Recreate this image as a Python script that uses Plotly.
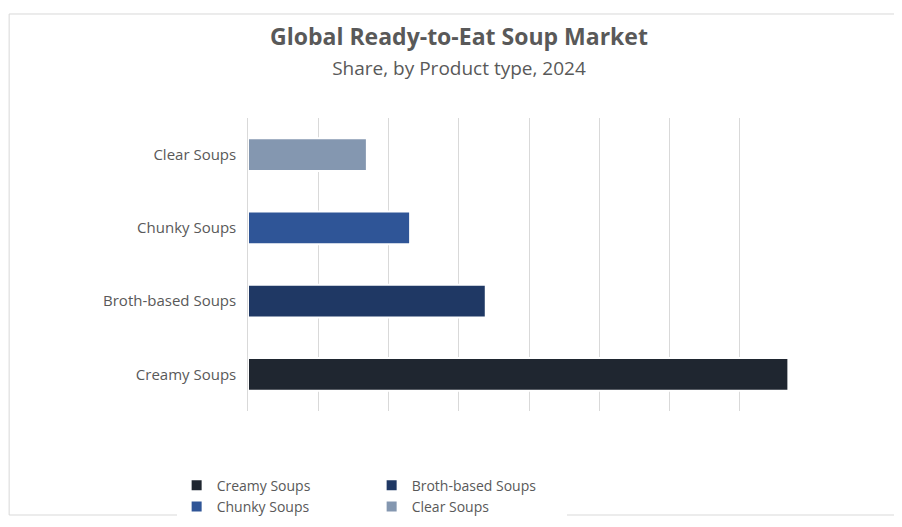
import plotly.graph_objects as go

categories = ["Creamy Soups", "Broth-based Soups", "Chunky Soups", "Clear Soups"]
shares = [50, 22, 15, 11]
colors = ["#1f2630", "#1f3864", "#2f5597", "#8497b0"]

fig = go.Figure()
for c, v, col in zip(categories, shares, colors):
    fig.add_trace(go.Bar(
        y=[c], x=[v], name=c, orientation="h", width=0.45,
        marker=dict(color=col, line=dict(color="white", width=2)),
        hoverinfo="x+y",
    ))

fig.update_layout(
    width=902, height=527,
    paper_bgcolor="white", plot_bgcolor="white",
    font=dict(family="Open Sans, Calibri, sans-serif", color="#595959"),
    title=dict(
        text="<b>Global Ready-to-Eat Soup Market</b><br><span style='font-size:19px'>Share, by Product type, 2024</span>",
        x=0.5, xanchor="center", y=0.93, font=dict(size=23, color="#595959"),
    ),
    margin=dict(l=240, r=100, t=110, b=110),
    barmode="overlay",
    bargap=0.5,
    xaxis=dict(showticklabels=False, showgrid=True, gridcolor="#d9d9d9",
               range=[0, 52], dtick=6.5, zeroline=False, showline=False),
    yaxis=dict(categoryorder="array", categoryarray=categories,
               tickfont=dict(size=15, color="#595959"), ticksuffix="  ",
               showline=True, linecolor="#d9d9d9"),
    legend=dict(orientation="h", x=0.22, xanchor="center", y=-0.2, yanchor="top",
                font=dict(size=14, color="#595959"), itemwidth=30,
                entrywidthmode="pixels", entrywidth=150),
    shapes=[dict(type="rect", xref="paper", yref="paper", x0=-0.425, x1=1.175,
                 y0=-0.355, y1=1.355, line=dict(color="#d9d9d9", width=1))],
)
fig.write_html("out.html")
